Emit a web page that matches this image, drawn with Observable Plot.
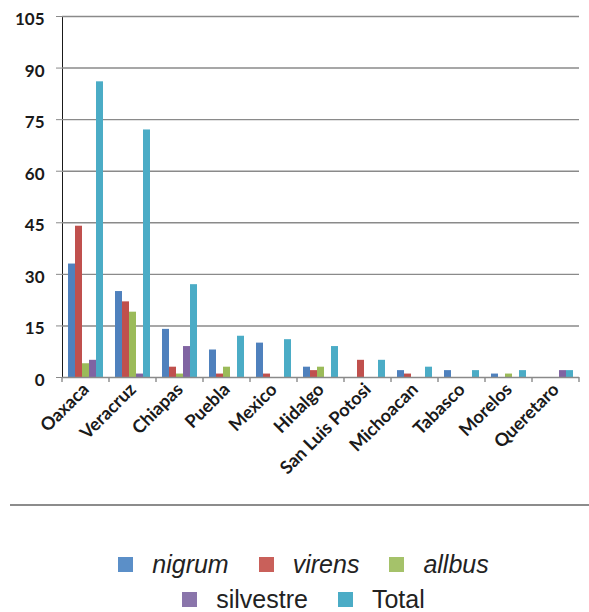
<!DOCTYPE html>
<html>
<head>
<meta charset="utf-8">
<script src="https://cdn.jsdelivr.net/npm/d3@7"></script>
<script src="https://cdn.jsdelivr.net/npm/@observablehq/plot@0.6"></script>
<style>
  html, body { margin: 0; padding: 0; background: white; }
  #chart svg { display: block; }
  .sep { margin-left: 10px; width: 579px; border-top: 2px solid #8c8c8c; margin-top: 4px; }
  .legend { font-family: "Liberation Sans", Arial, sans-serif; font-size: 25px; color: #222; padding-left: 18px; margin-top: 41px; }
  .row { display: flex; justify-content: center; align-items: center; height: 35px; }
  .item { display: flex; align-items: center; margin: 0 15px; }
  .sw { width: 15px; height: 15px; margin-right: 19px; }
  .it { font-style: italic; }
</style>
</head>
<body>
<div id="chart"></div>
<div class="sep"></div>
<div class="legend" id="legend"></div>
<script>
const states = ["Oaxaca", "Veracruz", "Chiapas", "Puebla", "Mexico", "Hidalgo", "San Luis Potosi", "Michoacan", "Tabasco", "Morelos", "Queretaro"];
const seriesNames = ["nigrum", "virens", "allbus", "silvestre", "Total"];
const nigrum    = [33, 25, 14, 8, 10, 3, 0, 2, 2, 1, 0];
const virens    = [44, 22, 3, 1, 1, 2, 5, 1, 0, 0, 0];
const allbus    = [4, 19, 1, 3, 0, 3, 0, 0, 0, 1, 0];
const silvestre = [5, 1, 9, 0, 0, 0, 0, 0, 0, 0, 2];
const total     = [86, 72, 27, 12, 11, 9, 5, 3, 2, 2, 2];
const yTicks = [0, 15, 30, 45, 60, 75, 90, 105];
const colors = ["#4F81BD", "#C0504D", "#9BBB59", "#8064A2", "#4BACC6"];
const legendColors = ["#5B8FC8", "#C9605A", "#A5C26A", "#8A75AB", "#4BACC6"];

const seriesValues = [nigrum, virens, allbus, silvestre, total];
const data = [];
states.forEach((s, i) => {
  seriesNames.forEach((n, j) => data.push({state: s, series: n, value: seriesValues[j][i]}));
});

const chart = Plot.plot({
  width: 589,
  height: 500,
  marginLeft: 60,
  marginRight: 9,
  marginTop: 16,
  marginBottom: 123,
  style: {fontFamily: "Lato", fontWeight: "bold", fontSize: "17px", color: "#1a1a1a", background: "white"},
  fx: {domain: states, padding: 0, label: null, tickRotate: -45, tickSize: 0, tickPadding: 9},
  x: {domain: seriesNames, axis: null, paddingInner: 0, paddingOuter: 0.78},
  y: {domain: [0, 105], ticks: yTicks, label: null, tickSize: 6, tickPadding: 12, line: true},
  color: {domain: seriesNames, range: colors},
  marks: [
    Plot.ruleY(yTicks.slice(1), {stroke: "#8a8a8a", strokeWidth: 1.4}),
    Plot.barY(data, {fx: "state", x: "series", y: "value", fill: "series"}),
    Plot.ruleY([0], {stroke: "#8a8a8a", strokeWidth: 1.4})
  ]
});
document.getElementById("chart").appendChild(chart);

const svg = d3.select(chart);
svg.selectAll("[aria-label='fx-axis tick label'] text").style("font-size", "18px");
svg.selectAll("[aria-label='y-axis tick'] path, [aria-label='y-axis'] path").attr("stroke", "#8a8a8a");
svg.selectAll("[aria-label='y-axis tick label']").attr("transform", function() {
  const t = this.getAttribute("transform") || "";
  return t + " translate(0,3)";
});

// small ticks between state groups on the bottom axis, placed with the fx band scale
const fx = chart.scale("fx");
const yS = chart.scale("y");
const y0 = yS.apply(0);
const edges = states.map(s => fx.apply(s));
edges.push(fx.apply(states[states.length - 1]) + fx.bandwidth);
const g = svg.append("g").attr("stroke", "#8a8a8a").attr("stroke-width", 1.4);
edges.forEach(x => g.append("line").attr("x1", x).attr("x2", x).attr("y1", y0).attr("y2", y0 + 5));

// legend
const legend = document.getElementById("legend");
const rows = [[0, 1, 2], [3, 4]];
rows.forEach(r => {
  const row = document.createElement("div");
  row.className = "row";
  r.forEach(j => {
    const it = document.createElement("div");
    it.className = "item";
    const sw = document.createElement("div");
    sw.className = "sw";
    sw.style.background = legendColors[j];
    const t = document.createElement("span");
    t.textContent = seriesNames[j];
    if (j < 3) t.className = "it";
    it.appendChild(sw);
    it.appendChild(t);
    row.appendChild(it);
  });
  legend.appendChild(row);
});
</script>
</body>
</html>
